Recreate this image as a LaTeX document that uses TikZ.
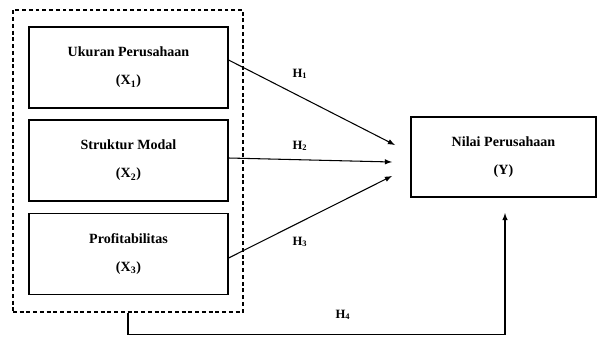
\documentclass[tikz,border=0pt]{standalone}
\usepackage{fontspec}
\setmainfont{Liberation Serif}
\usetikzlibrary{shapes,arrows,positioning,calc}

\tikzset{
  varbox/.style={draw=black, line width=0.8pt, minimum width=4.975cm, minimum height=2.025cm, align=center, font=\bfseries\normalsize},
  arr/.style={-latex, line width=0.75pt},
  hlabel/.style={font=\bfseries\small}
}

\begin{document}
\begin{tikzpicture}[x=0.025cm, y=-0.025cm]
            \useasboundingbox (0,0) rectangle (597,336);
            % dashed group around the independent variables
            \node[draw=black, dash pattern=on 2.8pt off 2pt, line width=0.8pt, minimum width=5.75cm, minimum height=7.55cm] (grp) at (128,161) {};
            \node[varbox] (ukuran) at (128.5,67.5) {Ukuran Perusahaan\\[8pt](X\textsubscript{1})};
            \node[varbox] (struktur) at (128.5,160.5) {Struktur Modal\\[8pt](X\textsubscript{2})};
            \node[varbox] (profit) at (128.5,254) {Profitabilitas\\[8pt](X\textsubscript{3})};
            \node[varbox, minimum width=4.625cm, minimum height=2cm] (nilai) at (503.5,157) {Nilai Perusahaan\\[8pt](Y)};
            % free ends of the arrows
            \coordinate (e1) at (395,145);
            \coordinate (e2) at (392,162);
            \coordinate (e3) at (392,176);
            \coordinate (e4) at (505,213);
            \draw[arr] (ukuran.east |- 0,60) -- (e1);
            \draw[arr] (struktur.east |- 0,158) -- (e2);
            \draw[arr] (profit.east |- 0,258) -- (e3);
            \draw[arr] (grp.south) -- ++(0,22) -| (e4);
            \node[hlabel] (h1) at (300,74) {H\textsubscript{1}};
            \node[hlabel] (h2) at (300,146) {H\textsubscript{2}};
            \node[hlabel] (h3) at (300,242) {H\textsubscript{3}};
            \node[hlabel] (h4) at (343,315) {H\textsubscript{4}};
        \end{tikzpicture}
\end{document}
